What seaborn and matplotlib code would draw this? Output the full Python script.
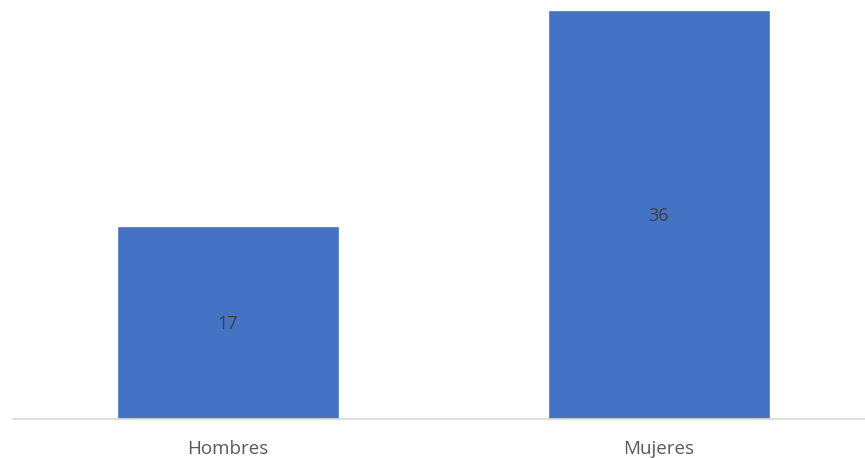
import matplotlib
matplotlib.use("Agg")
import matplotlib.pyplot as plt
import seaborn as sns
import pandas as pd

categories = ["Hombres", "Mujeres"]
values = [17, 36]

sns.set_theme(style="white")
plt.rcParams['font.family'] = ['Open Sans', 'DejaVu Sans']

df = pd.DataFrame({"cat": categories, "val": values})

W, H = 865, 458
fig = plt.figure(figsize=(W / 100, H / 100), dpi=100)
left = 12.5
base = 419
top = 10
ax = fig.add_axes([left / W, (H - base) / H, (W - left) / W, (base - top) / H])

sns.barplot(data=df, x="cat", y="val", color="#4472C4", width=0.513,
            saturation=1, ax=ax, zorder=2)

ax.set_xlim(-0.5, -0.5 + (W - left) / 431)
ax.set_ylim(0, 36)
ax.set_xlabel("")
ax.set_ylabel("")
ax.set_yticks([])
for s in ["top", "right", "left"]:
    ax.spines[s].set_visible(False)
ax.spines["bottom"].set_color("#D9D9D9")
ax.spines["bottom"].set_linewidth(1.2)
ax.tick_params(axis="x", length=0, pad=15, labelsize=13.5, labelcolor="#595959")

for i, v in enumerate(values):
    ax.text(i, v / 2 - 0.15, str(v), ha="center", va="center", fontsize=13, color="#404040")

fig.savefig("out.png", dpi=100)
